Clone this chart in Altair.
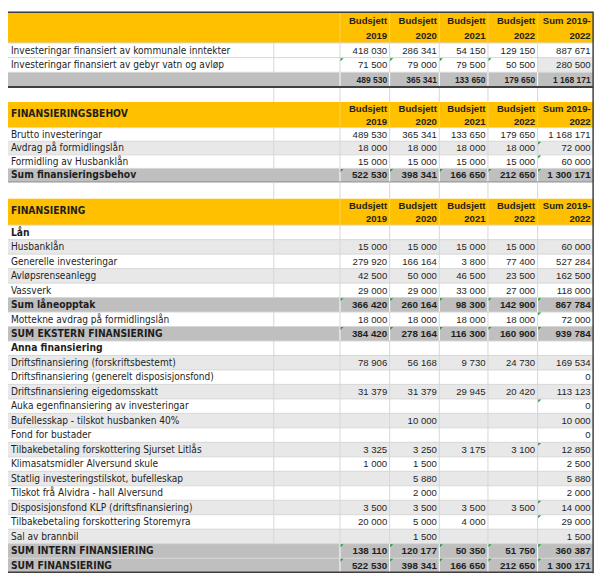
import altair as alt
import pandas as pd

# ---------------- data ----------------
head_top = ["Budsjett", "Budsjett", "Budsjett", "Budsjett", "Sum 2019-"]
head_bottom = ["2019", "2020", "2021", "2022", "2022"]

s1_title = ""
s1_labels = ["Investeringar finansiert av kommunale inntekter",
             "Investeringar finansiert av gebyr vatn og avløp",
             ""]
s1_b2019 = [418030, 71500, 489530]
s1_b2020 = [286341, 79000, 365341]
s1_b2021 = [54150, 79500, 133650]
s1_b2022 = [129150, 50500, 179650]
s1_sum = [887671, 280500, 1168171]

s2_title = "FINANSIERINGSBEHOV"
s2_labels = ["Brutto investeringar", "Avdrag på formidlingslån",
             "Formidling av Husbanklån", "Sum finansieringsbehov"]
s2_b2019 = [489530, 18000, 15000, 522530]
s2_b2020 = [365341, 18000, 15000, 398341]
s2_b2021 = [133650, 18000, 15000, 166650]
s2_b2022 = [179650, 18000, 15000, 212650]
s2_sum = [1168171, 72000, 60000, 1300171]

s3_title = "FINANSIERING"
s3_labels = ["Lån", "Husbanklån", "Generelle investeringar", "Avløpsrenseanlegg",
             "Vassverk", "Sum låneopptak", "Mottekne avdrag på formidlingslån",
             "SUM EKSTERN FINANSIERING", "Anna finansiering",
             "Driftsfinansiering (forskriftsbestemt)",
             "Driftsfinansiering (generelt disposisjonsfond)",
             "Driftsfinansiering eigedomsskatt",
             "Auka egenfinansiering av investeringar",
             "Bufellesskap - tilskot husbanken 40%", "Fond for bustader",
             "Tilbakebetaling forskottering Sjurset Litlås",
             "Klimasatsmidler Alversund skule",
             "Statlig investeringstilskot, bufelleskap",
             "Tilskot frå Alvidra - hall Alversund",
             "Disposisjonsfond KLP (driftsfinansiering)",
             "Tilbakebetaling forskottering Storemyra", "Sal av brannbil",
             "SUM INTERN FINANSIERING", "SUM FINANSIERING"]
s3_b2019 = [None, 15000, 279920, 42500, 29000, 366420, 18000, 384420, None,
            78906, None, 31379, None, None, None, 3325, 1000, None, None,
            3500, 20000, None, 138110, 522530]
s3_b2020 = [None, 15000, 166164, 50000, 29000, 260164, 18000, 278164, None,
            56168, None, 31379, None, 10000, None, 3250, 1500, 5880, 2000,
            3500, 5000, 1500, 120177, 398341]
s3_b2021 = [None, 15000, 3800, 46500, 33000, 98300, 18000, 116300, None,
            9730, None, 29945, None, None, None, 3175, None, None, None,
            3500, 4000, None, 50350, 166650]
s3_b2022 = [None, 15000, 77400, 23500, 27000, 142900, 18000, 160900, None,
            24730, None, 20420, None, None, None, 3100, None, None, None,
            3500, None, None, 51750, 212650]
s3_sum = [None, 60000, 527284, 162500, 118000, 867784, 72000, 939784, None,
          169534, 0, 113123, 0, 10000, 0, 12850, 2500, 5880, 2000,
          14000, 29000, 1500, 360387, 1300171]

# ---------------- styling (row kinds / cell markers) ----------------
s1_kinds = ["plain", "plain", "total_small"]
s2_kinds = ["plain", "hatch", "plain", "total"]
s3_kinds = ["bold", "hatch", "plain", "hatch", "plain", "total", "plain", "total",
            "bold", "hatch", "plain", "hatch", "plain", "hatch", "plain", "hatch",
            "plain", "hatch", "plain", "hatch", "plain", "hatch", "total", "total"]
ALL = [0, 1, 2, 3, 4]
s1_flags = {1: [0, 1, 2, 3]}
s2_flags = {1: [4], 2: [4], 3: ALL}
s3_flags = {5: ALL, 6: [4], 7: ALL, 12: [4], 15: [4], 19: [4], 20: [4], 22: ALL, 23: ALL}
s1_hatch_cells = {1: [4]}

YELLOW = "#FFC000"
GREY = "#BFBFBF"
HATCH = "#E8E8E8"
GRID = "#D6D6D6"
DARK = "#3F3F3F"
TEXT = "#1E1E1E"
FLAG = "#1E9B3C"

NARROW = "Liberation Sans Narrow, DejaVu Sans Condensed, Arial Narrow, sans-serif"
SANS = "Liberation Sans, Arial, sans-serif"

# ---------------- layout ----------------
REF_W, REF_H = 605, 577
COL_EDGES = [0, 273, 341, 392, 443, 493, 544, 601]
VAL_LEFT = COL_EDGES[2:7]
VAL_RIGHT = COL_EDGES[3:8]
RIGHT = COL_EDGES[-1]

sections = [
    dict(title=s1_title, labels=s1_labels,
         cols=[s1_b2019, s1_b2020, s1_b2021, s1_b2022, s1_sum],
         kinds=s1_kinds, flags=s1_flags, hatch_cells=s1_hatch_cells,
         head_h=32.0, row_h=15.1, gap=15.4),
    dict(title=s2_title, labels=s2_labels,
         cols=[s2_b2019, s2_b2020, s2_b2021, s2_b2022, s2_sum],
         kinds=s2_kinds, flags=s2_flags, hatch_cells={},
         head_h=26.4, row_h=13.95, gap=17.2),
    dict(title=s3_title, labels=s3_labels,
         cols=[s3_b2019, s3_b2020, s3_b2021, s3_b2022, s3_sum],
         kinds=s3_kinds, flags=s3_flags, hatch_cells={},
         head_h=27.2, row_h=14.88, gap=0),
]


def fmt(v):
    return f"{v:,}".replace(",", " ")


rects, lines, texts, flags = [], [], [], []


def vlines_for(y0, y1, kind):
    if kind == "header":
        for x in COL_EDGES[2:7]:
            lines.append(dict(x=x, x2=x, y=y0, y2=y1, c="#FFD257", w=1))
    elif kind.startswith("total"):
        for x in COL_EDGES[2:7]:
            lines.append(dict(x=x, x2=x, y=y0, y2=y1, c="#FFFFFF", w=1))
    else:
        for x in COL_EDGES[1:7]:
            lines.append(dict(x=x, x2=x, y=y0, y2=y1, c=GRID, w=1))


y = 0.0
for si, sec in enumerate(sections):
    # header
    h = sec["head_h"]
    rects.append(dict(x=0, x2=RIGHT, y=y, y2=y + h, fill=YELLOW))
    vlines_for(y, y + h, "header")
    if sec["title"]:
        texts.append(dict(x=3, y=y + 0.47 * h, t=sec["title"], s="title"))
    for c in range(5):
        texts.append(dict(x=VAL_RIGHT[c] - 2.5, y=y + 0.29 * h, t=head_top[c], s="head"))
        texts.append(dict(x=VAL_RIGHT[c] - 2.5, y=y + 0.78 * h, t=head_bottom[c], s="head"))
    y += h
    # rows
    rh = sec["row_h"]
    for r, lab in enumerate(sec["labels"]):
        kind = sec["kinds"][r]
        fill = {"plain": "#FFFFFF", "bold": "#FFFFFF", "hatch": HATCH,
                "total": GREY, "total_small": GREY}[kind]
        rects.append(dict(x=0, x2=RIGHT, y=y, y2=y + rh, fill=fill))
        for c in sec["hatch_cells"].get(r, []):
            rects.append(dict(x=VAL_LEFT[c], x2=VAL_RIGHT[c], y=y, y2=y + rh, fill=HATCH))
        lines.append(dict(x=0, x2=RIGHT, y=y, y2=y, c=GRID, w=1))
        vlines_for(y, y + rh, kind)
        cy = y + rh / 2 + 0.3
        if lab:
            ls = "label_bold" if kind in ("bold", "total", "total_small") else "label"
            texts.append(dict(x=3, y=cy, t=lab, s=ls))
        for c in range(5):
            v = sec["cols"][c][r]
            if v is None:
                continue
            ns = {"total": "num_bold", "total_small": "num_small"}.get(kind, "num")
            texts.append(dict(x=VAL_RIGHT[c] - 2.5, y=cy, t=fmt(v), s=ns))
        for c in sec["flags"].get(r, []):
            flags.append(dict(x=VAL_LEFT[c] + 0.6, y=y + 0.6))
        y += rh
    # section bottom borders
    if si == 0:
        lines.append(dict(x=0, x2=RIGHT, y=y, y2=y, c=DARK, w=2))
    elif si == 1:
        lines.append(dict(x=0, x2=RIGHT, y=y, y2=y, c="#8C8C8C", w=1))
    else:
        lines.append(dict(x=0, x2=RIGHT, y=y - 0.5, y2=y - 0.5, c=DARK, w=1.5))
    # gap row
    g = sec["gap"]
    if g > 0:
        vlines_for(y + 1, y + g, "blank")
        y += g

# outer borders
lines.append(dict(x=0, x2=RIGHT, y=0.5, y2=0.5, c=DARK, w=1.5))
lines.append(dict(x=RIGHT, x2=RIGHT, y=0, y2=REF_H, c=DARK, w=1.5))

rect_df = pd.DataFrame(rects)
line_df = pd.DataFrame(lines)
text_df = pd.DataFrame(texts)
flag_df = pd.DataFrame(flags)

W, H = 597, 569
xs = alt.Scale(domain=[0, REF_W], nice=False, zero=False)
ys = alt.Scale(domain=[0, REF_H], nice=False, zero=False, reverse=True)


def X(f="x"):
    return alt.X(f"{f}:Q", scale=xs, axis=None)


def Y(f="y"):
    return alt.Y(f"{f}:Q", scale=ys, axis=None)


bg = alt.Chart(rect_df).mark_rect(strokeWidth=0).encode(
    x=X(), x2="x2:Q", y=Y(), y2="y2:Q",
    fill=alt.Fill("fill:N", scale=None))

rules = alt.Chart(line_df).mark_rule().encode(
    x=X(), x2="x2:Q", y=Y(), y2="y2:Q",
    color=alt.Color("c:N", scale=None),
    strokeWidth=alt.StrokeWidth("w:Q", scale=None))

text_styles = {
    "label": dict(font=NARROW, fontSize=10.2, fontWeight="normal", align="left"),
    "label_bold": dict(font=NARROW, fontSize=10.4, fontWeight="bold", align="left"),
    "title": dict(font=NARROW, fontSize=10.4, fontWeight="bold", align="left"),
    "head": dict(font=SANS, fontSize=9.7, fontWeight="bold", align="right"),
    "num": dict(font=SANS, fontSize=9.7, fontWeight="normal", align="right"),
    "num_bold": dict(font=SANS, fontSize=9.9, fontWeight="bold", align="right"),
    "num_small": dict(font=SANS, fontSize=8.6, fontWeight="bold", align="right"),
}

layers = [bg, rules]
for style, props in text_styles.items():
    sub = text_df[text_df["s"] == style]
    if len(sub) == 0:
        continue
    layers.append(
        alt.Chart(sub).mark_text(baseline="middle", color=TEXT, **props).encode(
            x=X(), y=Y(), text="t:N"))

flag_layer = alt.Chart(flag_df).mark_point(
    shape="M0,0L2,0L0,2Z", size=9, filled=True, color=FLAG, opacity=1,
    strokeWidth=0).encode(x=X(), y=Y())
layers.append(flag_layer)

chart = alt.layer(*layers).properties(
    width=W, height=H, padding=0, autosize=alt.AutoSizeParams(type="none")
).configure_view(stroke=None)

chart.save("out.html", embed_options={"renderer": "svg", "actions": False})
